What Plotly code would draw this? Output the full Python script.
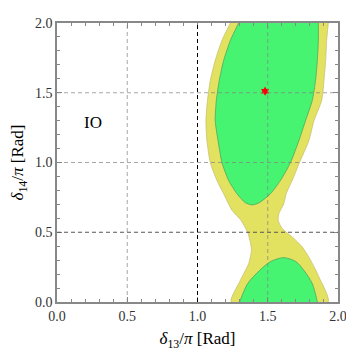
import plotly.graph_objects as go

# outer (yellow) allowed region, left edge top->bottom then right edge bottom->top
yel_left_y = [2.0, 1.875, 1.731, 1.588, 1.445, 1.30, 1.158, 1.0, 0.872, 0.776, 0.657, 0.585, 0.50, 0.43, 0.37, 0.275, 0.155, 0.0]
yel_left_x = [1.234, 1.174, 1.126, 1.091, 1.071, 1.06, 1.067, 1.091, 1.138, 1.186, 1.246, 1.31, 1.357, 1.376, 1.384, 1.364, 1.305, 1.24]
yel_right_y = [0.0, 0.18, 0.30, 0.394, 0.466, 0.526, 0.585, 0.633, 0.705, 0.776, 0.872, 1.0, 1.158, 1.30, 1.445, 1.588, 1.731, 1.875, 2.0]
yel_right_x = [1.93, 1.864, 1.805, 1.746, 1.674, 1.603, 1.574, 1.579, 1.614, 1.631, 1.674, 1.726, 1.793, 1.829, 1.884, 1.9, 1.912, 1.919, 1.931]

# inner (green) region, upper island
grn_up_x = [1.293, 1.234, 1.186, 1.155, 1.134, 1.126, 1.146, 1.174, 1.221, 1.281, 1.34, 1.389, 1.44,
            1.519, 1.591, 1.662, 1.722, 1.769, 1.817, 1.84, 1.853, 1.86, 1.86]
grn_up_y = [2.0, 1.875, 1.731, 1.588, 1.445, 1.30, 1.158, 1.0, 0.872, 0.776, 0.712, 0.696, 0.712,
            0.776, 0.872, 1.0, 1.158, 1.30, 1.445, 1.588, 1.731, 1.875, 2.0]

# inner (green) region, lower island
grn_lo_x = [1.30, 1.357, 1.443, 1.52, 1.614, 1.70, 1.757, 1.817, 1.853]
grn_lo_y = [0.0, 0.132, 0.227, 0.29, 0.318, 0.29, 0.227, 0.132, 0.0]

# best fit
best_x = [1.481]
best_y = [1.511]

grid_pos = [0.5, 1.0, 1.5]
ticks = [0.0, 0.5, 1.0, 1.5, 2.0]
tick_text = ["0.0", "0.5", "1.0", "1.5", "2.0"]

serif = "Liberation Serif, Times New Roman, serif"

fig = go.Figure()

fig.add_trace(go.Scatter(x=yel_left_x + yel_right_x, y=yel_left_y + yel_right_y,
                         fill="toself", fillcolor="#e3e160", mode="lines",
                         line=dict(color="#c8c070", width=0.8, shape="spline", smoothing=0.6),
                         hoverinfo="skip", showlegend=False))
fig.add_trace(go.Scatter(x=grn_up_x, y=grn_up_y, fill="toself", fillcolor="#46f472", mode="lines",
                         line=dict(color="#4aa860", width=0.8, shape="spline", smoothing=0.6),
                         hoverinfo="skip", showlegend=False))
fig.add_trace(go.Scatter(x=grn_lo_x, y=grn_lo_y, fill="toself", fillcolor="#46f472", mode="lines",
                         line=dict(color="#4aa860", width=0.8, shape="spline", smoothing=0.8),
                         hoverinfo="skip", showlegend=False))
fig.add_trace(go.Scatter(x=best_x, y=best_y, mode="markers",
                         marker=dict(symbol="hexagram", size=7, color="red"),
                         showlegend=False))

# dashed grid on top of the regions
for g in grid_pos:
    cx = "black" if g == 1.0 else "rgba(130,130,130,0.7)"
    cy = "#555555" if g == 0.5 else "rgba(130,130,130,0.7)"
    fig.add_shape(type="line", x0=g, x1=g, y0=0, y1=2, layer="above",
                  line=dict(color=cx, width=1, dash="4px,3px"))
    fig.add_shape(type="line", x0=0, x1=2, y0=g, y1=g, layer="above",
                  line=dict(color=cy, width=1, dash="4px,3px"))

fig.add_annotation(x=0.255, y=1.287, text="IO", showarrow=False,
                   font=dict(family=serif, size=17, color="black"))

axis_style = dict(range=[0, 2], tickvals=ticks, ticktext=tick_text, ticks="inside", ticklen=5,
                  tickcolor="#888888", showline=True, linecolor="#888888", linewidth=1.5,
                  mirror="allticks", showgrid=False, zeroline=False, automargin=False,
                  minor=dict(dtick=0.1, ticks="inside", ticklen=3, tickcolor="#888888"),
                  tickfont=dict(family=serif, size=14, color="#333333"))

fig.update_xaxes(**axis_style, title=dict(text="<i>δ</i><sub>13</sub>/<i>π</i> [Rad]",
                                          font=dict(family=serif, size=17, color="black"), standoff=10))
fig.update_yaxes(**axis_style, title=dict(text="<i>δ</i><sub>14</sub>/<i>π</i> [Rad]",
                                          font=dict(family=serif, size=17, color="black"), standoff=14))

# page body adds an 8px offset, margins compensate for it
fig.update_layout(width=354, height=354, margin=dict(l=49, r=24, t=15, b=60),
                  plot_bgcolor="white", paper_bgcolor="white")

fig.write_html("out.html")
